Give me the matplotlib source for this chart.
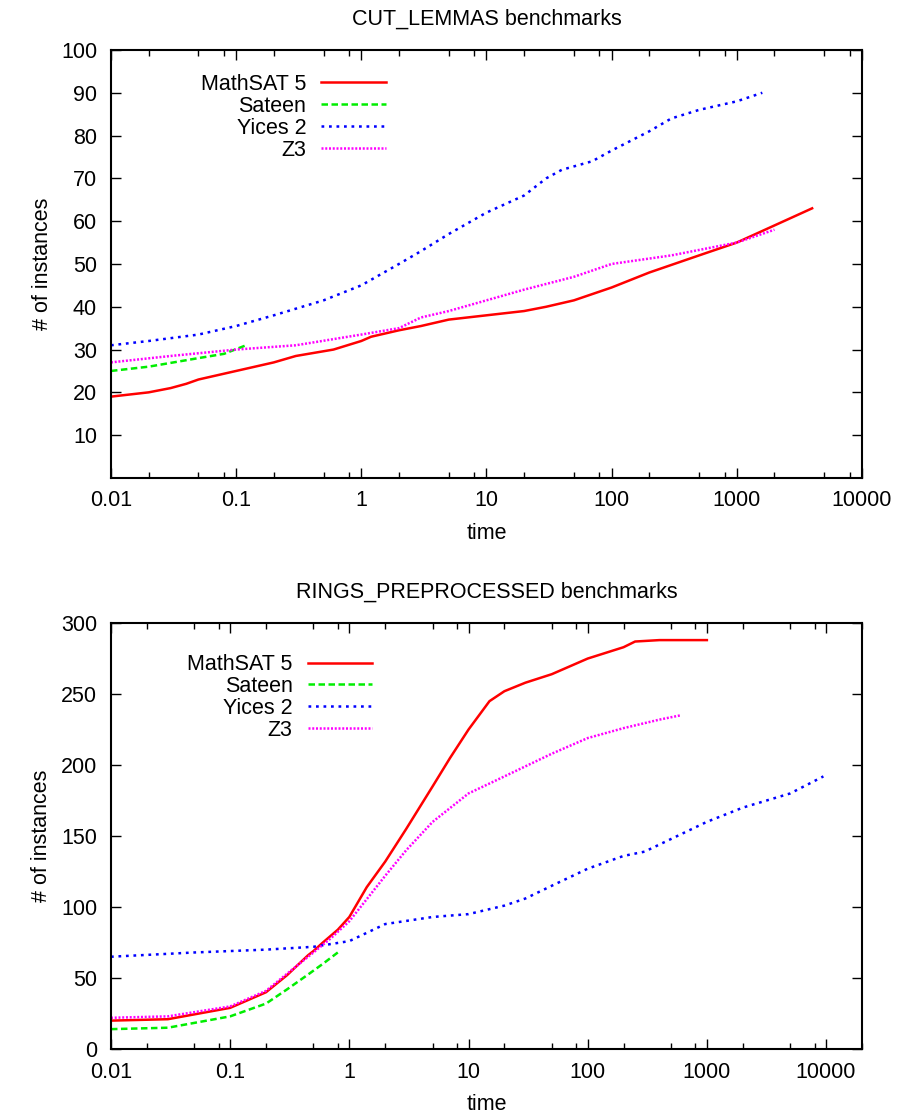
import matplotlib
matplotlib.use('Agg')
import matplotlib.pyplot as plt
from matplotlib.ticker import LogLocator, NullFormatter, FixedLocator

plt.rcParams['font.family'] = ['Liberation Sans', 'DejaVu Sans']

# CUT_LEMMAS benchmarks
cut_math_t = [0.01, 0.02, 0.03, 0.04, 0.05, 0.1, 0.2, 0.3, 0.6, 1, 1.2, 2, 3, 5, 10, 20, 30, 50, 100, 200, 500, 1000, 2000, 4000]
cut_math_n = [19, 20, 21, 22, 23, 25, 27, 28.5, 30, 32, 33, 34.5, 35.5, 37, 38, 39, 40, 41.5, 44.5, 48, 52, 55, 59, 63]
cut_sateen_t = [0.01, 0.02, 0.05, 0.08, 0.12]
cut_sateen_n = [25, 26, 28, 29, 31]
cut_yices_t = [0.01, 0.02, 0.05, 0.1, 0.2, 0.5, 1, 2, 3, 5, 10, 20, 30, 40, 70, 100, 200, 300, 500, 1000, 1600]
cut_yices_n = [31, 32, 33.5, 35.5, 38, 41.5, 45, 50, 53, 57, 62, 66, 70, 72, 74, 76.5, 81, 84, 86, 88, 90]
cut_z3_t = [0.01, 0.03, 0.1, 0.3, 1, 2, 3, 5, 10, 20, 50, 100, 300, 1000, 2000]
cut_z3_n = [27, 28.5, 30, 31, 33.5, 35, 37.5, 39, 41.5, 44, 47, 50, 52, 55, 58]

# RINGS_PREPROCESSED benchmarks
ring_math_t = [0.01, 0.03, 0.1, 0.2, 0.3, 0.45, 0.5, 0.6, 0.8, 1, 1.4, 2, 3, 5, 7, 10, 15, 20, 30, 50, 100, 200, 250, 400, 1000]
ring_math_n = [20, 21, 29, 40, 52, 66, 69, 75, 84, 93, 114, 132, 155, 185, 205, 225, 245, 252, 258, 264, 275, 283, 287, 288, 288]
ring_sateen_t = [0.01, 0.03, 0.1, 0.2, 0.3, 0.46, 0.6, 0.8]
ring_sateen_n = [14, 15, 23, 32, 42, 53, 60, 68]
ring_yices_t = [0.01, 0.05, 0.2, 0.5, 1, 2, 5, 10, 20, 30, 50, 100, 200, 300, 1000, 2000, 5000, 9500]
ring_yices_n = [65, 68, 70, 72, 76, 88, 93, 95, 101, 106, 115, 127, 136, 139, 160, 170, 180, 192]
ring_z3_t = [0.01, 0.03, 0.1, 0.2, 0.3, 0.5, 0.7, 1, 2, 3, 5, 10, 15, 20, 50, 100, 200, 400, 600]
ring_z3_n = [22, 23, 30, 41, 53, 68, 78, 90, 122, 140, 160, 180, 187, 192, 208, 219, 226, 232, 235]

labels = ['MathSAT 5', 'Sateen', 'Yices 2', 'Z3']
colors = ['#ff0000', '#00ee00', '#0000ff', '#ff00ff']
dashes = [None, (2.6, 1.4), (1.1, 1.9), (0.8, 0.7)]
fs = 15.5

fig = plt.figure(figsize=(9, 11.18), dpi=100)
ax1 = fig.add_axes([0.1233, 0.5725, 0.8344, 0.3828])
ax2 = fig.add_axes([0.1233, 0.0617, 0.8344, 0.381])

def draw(ax, series, title, xmax, yticks, ymax, anchor):
    for (t, n), lab, c, d in zip(series, labels, colors, dashes):
        line, = ax.plot(t, n, color=c, lw=1.8, label=lab)
        if d is not None:
            line.set_dashes(d)
    ax.set_xscale('log')
    ax.set_xlim(0.01, xmax)
    ax.set_ylim(0, ymax)
    ax.xaxis.set_minor_locator(LogLocator(base=10, subs=[2, 5, 8]))
    ax.xaxis.set_minor_formatter(NullFormatter())
    ax.set_xticks([0.01, 0.1, 1, 10, 100, 1000, 10000])
    ax.set_xticklabels(['0.01', '0.1', '1', '10', '100', '1000', '10000'])
    ax.yaxis.set_major_locator(FixedLocator(yticks))
    ax.tick_params(which='both', direction='in', top=True, right=True, labelsize=fs)
    ax.tick_params(axis='x', pad=9)
    ax.tick_params(axis='y', pad=10)
    ax.tick_params(which='major', length=7, width=1)
    ax.tick_params(which='minor', length=4.3, width=1)
    for s in ax.spines.values():
        s.set_linewidth(1.5)
    ax.set_title(title, fontsize=fs, pad=18)
    ax.set_xlabel('time', fontsize=fs, labelpad=8)
    ax.set_ylabel('# of instances', fontsize=fs, labelpad=6)
    ax.legend(loc='upper right', bbox_to_anchor=anchor, frameon=False, markerfirst=False,
              fontsize=fs, handlelength=3.0, labelspacing=0.04, handletextpad=0.7,
              borderpad=0, borderaxespad=0)

draw(ax1, [(cut_math_t, cut_math_n), (cut_sateen_t, cut_sateen_n), (cut_yices_t, cut_yices_n), (cut_z3_t, cut_z3_n)],
     'CUT_LEMMAS benchmarks', 10000, [10, 20, 30, 40, 50, 60, 70, 80, 90, 100], 100, (0.366, 0.944))
draw(ax2, [(ring_math_t, ring_math_n), (ring_sateen_t, ring_sateen_n), (ring_yices_t, ring_yices_n), (ring_z3_t, ring_z3_n)],
     'RINGS_PREPROCESSED benchmarks', 20000, [0, 50, 100, 150, 200, 250, 300], 300, (0.348, 0.927))

plt.savefig('out.png', dpi=100)
